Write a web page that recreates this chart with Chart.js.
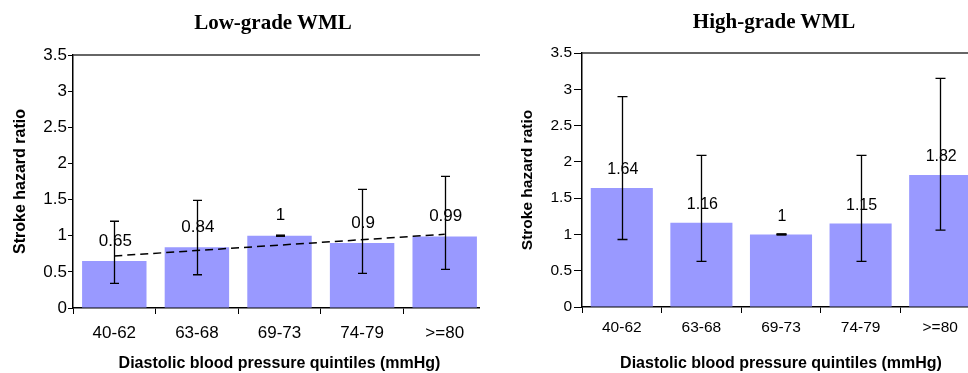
<!DOCTYPE html>
<html lang="en">
<head>
    <meta charset="UTF-8">
    <title>Stroke hazard ratio by diastolic blood pressure</title>
    <script src="https://cdn.jsdelivr.net/npm/chart.js"></script>
    <style>
        body {
            margin: 0;
            background: #fff;
            width: 968px;
            height: 373px;
            position: relative;
            overflow: hidden;
        }
        .panel {
            position: absolute;
            top: 0;
            width: 480px;
            height: 373px;
            overflow: hidden;
        }
        #leftPanel { left: 0; }
        #rightPanel { left: 488px; }
        .chartTitle {
            position: absolute;
            top: 10px;
            width: 300px;
            text-align: center;
            font-family: "Liberation Serif", "Times New Roman", serif;
            font-weight: bold;
            font-size: 21px;
            line-height: 24px;
            color: #000;
        }
        canvas { position: absolute; left: 0; top: 0; }
    </style>
</head>
<body>
    <div id="leftPanel" class="panel">
        <canvas id="lowChart" width="486" height="373"></canvas>
        <div class="chartTitle" style="left: 123px;">Low-grade WML</div>
    </div>
    <div id="rightPanel" class="panel">
        <canvas id="highChart" width="492" height="373"></canvas>
        <div class="chartTitle" style="left: 136px; top: 9px;">High-grade WML</div>
    </div>
    <script>
        const quintiles = ['40-62', '63-68', '69-73', '74-79', '>=80'];

        // Low-grade WML
        const lowHR = [0.65, 0.84, 1, 0.9, 0.99];
        const lowCiLower = [0.34, 0.46, 1, 0.48, 0.535];
        const lowCiUpper = [1.2, 1.49, 1, 1.64, 1.82];
        const lowTrend = [0.72, null, null, null, 1.02];

        // High-grade WML
        const highHR = [1.64, 1.16, 1, 1.15, 1.82];
        const highCiLower = [0.93, 0.63, 1, 0.63, 1.06];
        const highCiUpper = [2.9, 2.09, 1, 2.09, 3.15];

        const yTicks = [0, 0.5, 1, 1.5, 2, 2.5, 3, 3.5];

        const barColor = '#9999FF';
        const fontFamily = "Arial, 'Liberation Sans', sans-serif";

        // draws error bars, value labels and the top frame line
        const extrasPlugin = {
            id: 'extras',
            afterDatasetsDraw(chart, args, opts) {
                const ctx = chart.ctx;
                const x = chart.scales.x;
                const y = chart.scales.y;
                const area = chart.chartArea;

                ctx.save();
                // top border of plot area
                ctx.strokeStyle = '#333';
                ctx.lineWidth = 1.5;
                ctx.beginPath();
                ctx.moveTo(area.left, area.top);
                ctx.lineTo(area.right + 2, area.top);
                ctx.stroke();

                // value labels
                ctx.fillStyle = '#000';
                ctx.font = opts.labelFont;
                ctx.textAlign = 'center';
                ctx.textBaseline = 'middle';
                opts.values.forEach(function(v, i) {
                    ctx.fillText(String(v), x.getPixelForValue(i) + 1, y.getPixelForValue(v) - opts.labelGap);
                });

                // error bars
                ctx.strokeStyle = '#000';
                ctx.lineWidth = 1.3;
                opts.lower.forEach(function(lo, i) {
                    const hi = opts.upper[i];
                    const px = Math.round(x.getPixelForValue(i)) + 0.5;
                    const yLo = y.getPixelForValue(lo);
                    const yHi = y.getPixelForValue(hi);
                    const half = opts.cap / 2;
                    ctx.beginPath();
                    ctx.moveTo(px, yLo);
                    ctx.lineTo(px, yHi);
                    ctx.moveTo(px - half, yLo);
                    ctx.lineTo(px + half, yLo);
                    ctx.moveTo(px - half, yHi);
                    ctx.lineTo(px + half, yHi);
                    ctx.stroke();
                    if (lo === hi) {
                        ctx.lineWidth = 2.5;
                        ctx.beginPath();
                        ctx.moveTo(px - half, yLo);
                        ctx.lineTo(px + half, yLo);
                        ctx.stroke();
                        ctx.lineWidth = 1.3;
                    }
                });
                ctx.restore();
            }
        };

        function makeOptions(cfg) {
            return {
                responsive: false,
                animation: false,
                layout: { padding: { top: cfg.top, right: 0, bottom: 0, left: 0 } },
                plugins: {
                    legend: { display: false },
                    tooltip: { enabled: false },
                    extras: {
                        values: cfg.values,
                        lower: cfg.lower,
                        upper: cfg.upper,
                        labelFont: cfg.labelSize + 'px ' + fontFamily,
                        labelGap: cfg.labelGap,
                        cap: cfg.cap
                    }
                },
                scales: {
                    x: {
                        afterFit: function(scale) { scale.height = cfg.xHeight; },
                        grid: {
                            display: true,
                            drawOnChartArea: false,
                            drawTicks: true,
                            tickLength: 6,
                            color: '#000',
                            offset: true
                        },
                        border: { display: true, color: '#000', width: 1.5 },
                        ticks: {
                            color: '#000',
                            font: { family: fontFamily, size: cfg.tickSize },
                            padding: cfg.xTickPad,
                            maxRotation: 0
                        },
                        title: {
                            display: true,
                            text: 'Diastolic blood pressure quintiles (mmHg)',
                            color: '#000',
                            font: { family: fontFamily, size: 16, weight: 'bold' },
                            padding: { top: 0, bottom: 0 }
                        }
                    },
                    y: {
                        min: 0,
                        max: 3.5,
                        afterFit: function(scale) { scale.width = cfg.yWidth; },
                        afterBuildTicks: function(scale) {
                            scale.ticks = yTicks.map(function(v) { return { value: v }; });
                        },
                        grid: {
                            display: true,
                            drawOnChartArea: false,
                            drawTicks: true,
                            tickLength: cfg.yTickLen,
                            color: '#000'
                        },
                        border: { display: true, color: '#000', width: 1.5 },
                        ticks: {
                            color: '#000',
                            font: { family: fontFamily, size: cfg.yTickSize },
                            padding: cfg.yTickPad,
                            callback: function(value) { return String(value); }
                        },
                        title: {
                            display: true,
                            text: 'Stroke hazard ratio',
                            color: '#000',
                            font: { family: fontFamily, size: cfg.yTitleSize, weight: 'bold' },
                            padding: { top: cfg.yTitlePad, bottom: 0 }
                        }
                    }
                }
            };
        }

        new Chart(document.getElementById('lowChart').getContext('2d'), {
            type: 'bar',
            data: {
                labels: quintiles,
                datasets: [{
                    type: 'line',
                    data: lowTrend,
                    spanGaps: true,
                    borderColor: '#000',
                    borderWidth: 1.5,
                    borderDash: [8, 5],
                    pointRadius: 0,
                    fill: false,
                    order: 0
                }, {
                    data: lowHR,
                    backgroundColor: barColor,
                    barPercentage: 0.78,
                    categoryPercentage: 1,
                    order: 1
                }]
            },
            options: makeOptions({
                top: 55, xHeight: 65, yWidth: 73,
                tickSize: 17, yTickSize: 17, xTickPad: 9,
                yTickLen: 5, yTickPad: 1,
                yTitleSize: 16, yTitlePad: 11,
                values: lowHR, lower: lowCiLower, upper: lowCiUpper,
                labelSize: 17, labelGap: 20, cap: 9
            }),
            plugins: [extrasPlugin]
        });

        new Chart(document.getElementById('highChart').getContext('2d'), {
            type: 'bar',
            data: {
                labels: quintiles,
                datasets: [{
                    data: highHR,
                    backgroundColor: barColor,
                    barPercentage: 0.78,
                    categoryPercentage: 1
                }]
            },
            options: makeOptions({
                top: 53, xHeight: 66, yWidth: 94,
                tickSize: 15.5, yTickSize: 15.5, xTickPad: 5,
                yTickLen: 8, yTickPad: 2,
                yTitleSize: 15.5, yTitlePad: 30,
                values: highHR, lower: highCiLower, upper: highCiUpper,
                labelSize: 16, labelGap: 18, cap: 10
            }),
            plugins: [extrasPlugin]
        });
    </script>
</body>
</html>
